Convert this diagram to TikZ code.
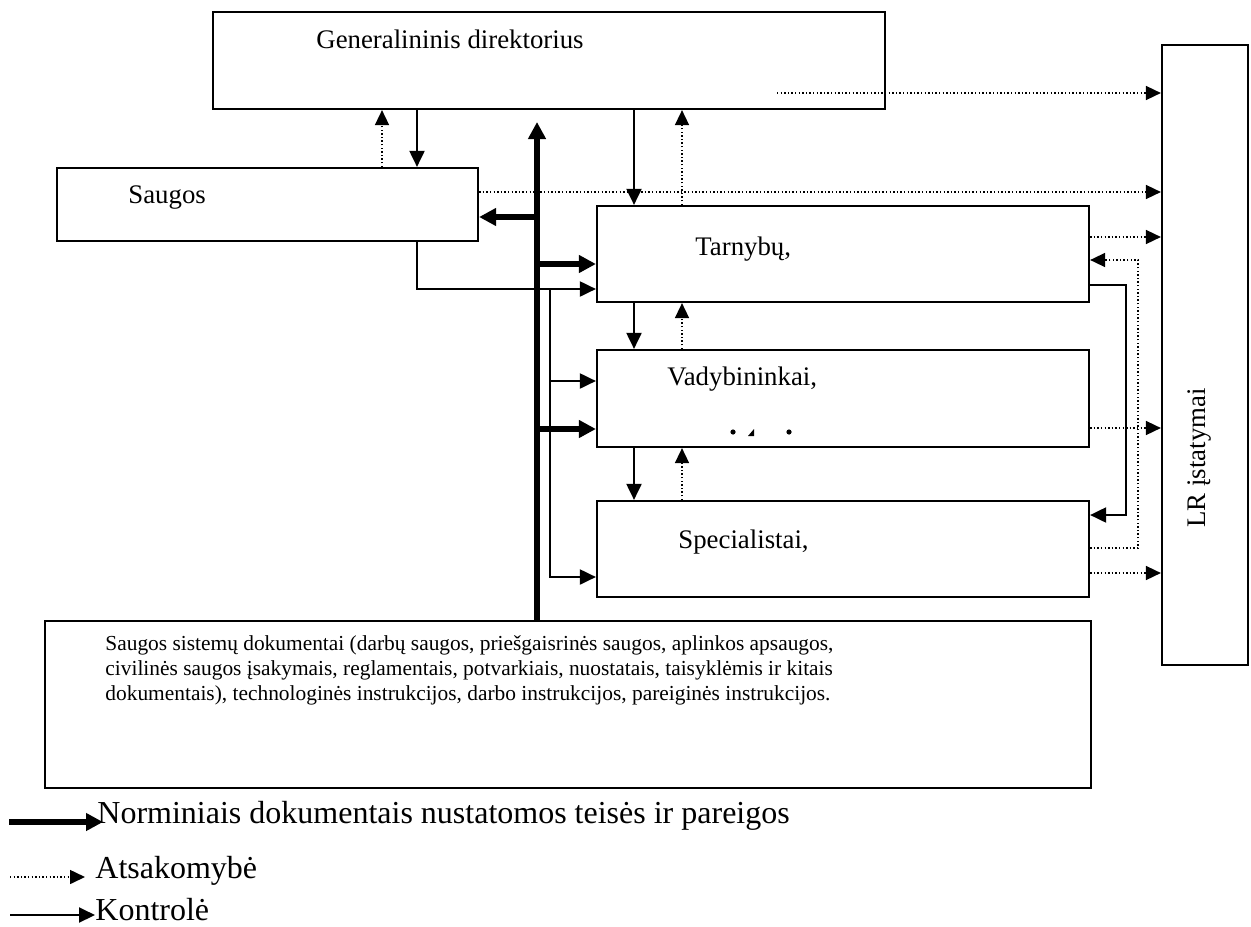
\documentclass[tikz,border=0pt]{standalone}
\usepackage{fontspec}
\setmainfont{Liberation Serif}
\usetikzlibrary{arrows.meta}
\begin{document}
\begin{tikzpicture}[x=0.5pt,y=-0.5pt,
  box/.style={draw, line width=1.1pt, inner sep=0pt},
  lbl/.style={anchor=base west, inner sep=0pt, font=\fontsize{13.4}{16}\selectfont},
  doctext/.style={anchor=base west, inner sep=0pt, font=\fontsize{10.7}{12.5}\selectfont},
  legtext/.style={anchor=base west, inner sep=0pt, font=\fontsize{16}{19}\selectfont},
  ctrl/.style={line width=1pt, -{Triangle[length=8pt,width=7.5pt]}},
  resp/.style={line width=0.8pt, dash pattern=on 0.7pt off 1.1pt, -{Triangle[length=7.5pt,width=7pt]}},
  norm/.style={line width=3.2pt, -{Triangle[length=8.5pt,width=8.5pt]}},
]
\useasboundingbox (0,0) rectangle (1251,926);

% boxes
\node[box, minimum width=336pt, minimum height=48.5pt] (gen) at (549,60.5) {};
\node[box, minimum width=210.5pt, minimum height=36.5pt] (saug) at (267.5,204.5) {};
\node[box, minimum width=246pt, minimum height=48pt] (tarn) at (843,254) {};
\node[box, minimum width=246pt, minimum height=48.5pt] (vady) at (843,398.5) {};
\node[box, minimum width=246pt, minimum height=48pt] (spec) at (843,549) {};
\node[box, minimum width=523pt, minimum height=83.5pt] (doc) at (568,704.5) {};
\node[box, minimum width=43pt, minimum height=310pt] (lr) at (1205,355) {};

% box labels
\node[lbl] (tgen) at (316,48) {Generalininis direktorius};
\node[lbl] (tsaug) at (128,203) {Saugos};
\node[lbl] (ttarn) at (695,255) {Tarnybų,};
\node[lbl] (tvady) at (667,385) {Vadybininkai,};
\node[lbl] (tspec) at (678,548) {Specialistai,};
\node[doctext] (tdocA) at (105,650) {Saugos sistemų dokumentai (darbų saugos, priešgaisrinės saugos, aplinkos apsaugos,};
\node[doctext] (tdocB) at (105,675) {civilinės saugos įsakymais, reglamentais, potvarkiais, nuostatais, taisyklėmis ir kitais};
\node[doctext] (tdocC) at (105,700) {dokumentais), technologinės instrukcijos, darbo instrukcijos, pareiginės instrukcijos.};
\node[inner sep=0pt, rotate=90, font=\fontsize{13.4}{16}\selectfont] (tlr) at (1199,458) {LR įstatymai};

% small marks inside the managers box
\fill (733,432) circle (1.3pt);
\fill (789,432) circle (1.3pt);
\fill (748,436) -- (754,429) -- (754,436) -- cycle;

% helper columns and rows
\coordinate (cA) at (382,0);
\coordinate (cB) at (417,0);
\coordinate (cE) at (634,0);
\coordinate (cF) at (682,0);
\coordinate (cD) at (550,289);
\coordinate (cG) at (1126,0);
\coordinate (cH) at (1138,0);
\coordinate (busTop) at (537,122);
\coordinate (n1) at (537,217);
\coordinate (n2) at (537,264);
\coordinate (n3) at (537,429);
\coordinate (r289) at (0,289);
\coordinate (r381) at (0,381);
\coordinate (r577) at (0,577);
\coordinate (r285) at (0,285);
\coordinate (r515) at (0,515);
\coordinate (g0) at (777,93);
\coordinate (r192) at (0,192);
\coordinate (r237) at (0,237);
\coordinate (r428) at (0,428);
\coordinate (r573) at (0,573);
\coordinate (r548) at (0,548);
\coordinate (r260) at (0,260);

% normative documents: thick bus and branches
\draw[norm] (doc.north -| busTop) -- (busTop);
\draw[norm] (n1) -- (n1 -| saug.east);
\draw[norm] (n2) -- (n2 -| tarn.west);
\draw[norm] (n3) -- (n3 -| vady.west);

% control
\draw[ctrl] (gen.south -| cB) -- (saug.north -| cB);
\draw[ctrl] (gen.south -| cE) -- (tarn.north -| cE);
\draw[ctrl] (tarn.south -| cE) -- (vady.north -| cE);
\draw[ctrl] (vady.south -| cE) -- (spec.north -| cE);
\draw[ctrl] (saug.south -| cB) |- (r289 -| tarn.west);
\draw[ctrl] (cD) |- (r577 -| spec.west);
\draw[ctrl] (cD |- r381) -- (r381 -| vady.west);
\draw[ctrl] (tarn.east |- r285) -| (cG |- r515) -- (spec.east |- r515);

% responsibility
\draw[resp] (saug.north -| cA) -- (gen.south -| cA);
\draw[resp] (tarn.north -| cF) -- (gen.south -| cF);
\draw[resp] (vady.north -| cF) -- (tarn.south -| cF);
\draw[resp] (spec.north -| cF) -- (vady.south -| cF);
\draw[resp] (g0) -- (g0 -| lr.west);
\draw[resp] (saug.east |- r192) -- (r192 -| lr.west);
\draw[resp] (tarn.east |- r237) -- (r237 -| lr.west);
\draw[resp] (vady.east |- r428) -- (r428 -| lr.west);
\draw[resp] (spec.east |- r573) -- (r573 -| lr.west);
\draw[resp] (spec.east |- r548) -| (cH |- r260) -- (tarn.east |- r260);

% legend
\coordinate (lg1) at (9,822);
\coordinate (lg2) at (10,877);
\coordinate (lg3) at (10,915);
\node[legtext] (leg1) at (97,823) {Norminiais dokumentais nustatomos teisės ir pareigos};
\node[legtext] (leg2) at (95,878) {Atsakomybė};
\node[legtext] (leg3) at (95,920) {Kontrolė};
\draw[norm, shorten >=-3pt] (lg1) -- (lg1 -| leg1.west);
\draw[resp, shorten >=5pt] (lg2) -- (lg2 -| leg2.west);
\draw[ctrl] (lg3) -- (lg3 -| leg3.west);
\end{tikzpicture}
\end{document}
